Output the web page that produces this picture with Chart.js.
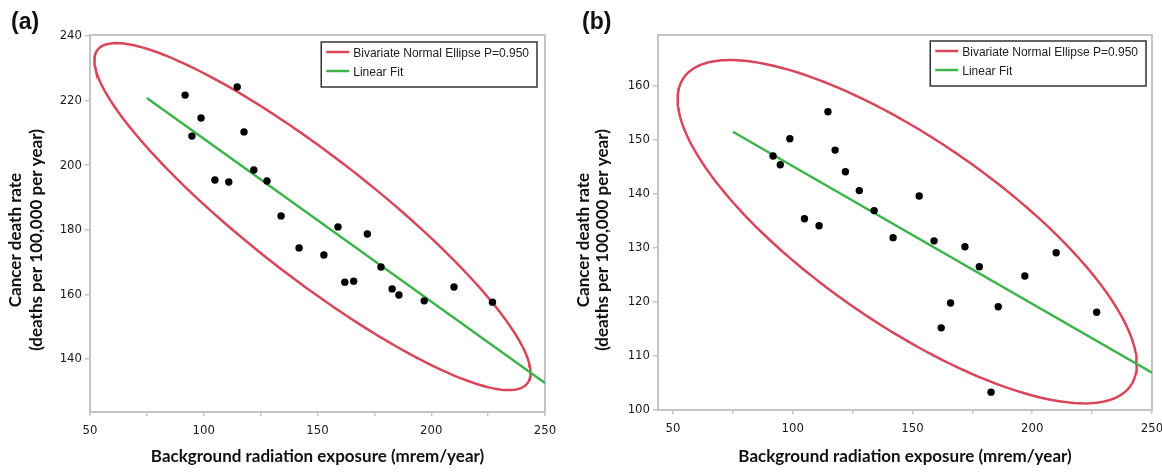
<!DOCTYPE html>
<html><head><meta charset="utf-8">
<script src="https://cdn.jsdelivr.net/npm/chart.js@4.4.1/dist/chart.umd.min.js"></script>
<style>
html,body{margin:0;padding:0;background:#fff;}
#wrap{position:relative;width:1162px;height:472px;overflow:hidden;background:#fff;}
canvas{position:absolute;left:0;top:0;}
</style></head><body>
<div id="wrap">
<canvas id="ca" width="1162" height="472"></canvas>
<canvas id="cb" width="1162" height="472"></canvas>
</div>
<script>
// ---- data ----
const radiation = [91.8, 94.8, 98.8, 104.9, 111.0, 114.7, 117.7, 122.0, 127.8, 134.0, 141.9,
                   152.8, 159.0, 162.0, 165.9, 171.9, 177.9, 182.8, 185.8, 196.9, 210.0, 226.9];
const cancerRateA = [221.7, 209.0, 214.6, 195.4, 194.8, 224.2, 210.3, 198.5, 195.1, 184.3, 174.4,
                     172.2, 180.9, 163.8, 164.1, 178.7, 168.5, 161.7, 159.8, 158.0, 162.3, 157.6];
const cancerRateB = [147.0, 145.4, 150.2, 135.4, 134.1, 155.2, 148.1, 144.1, 140.6, 136.9, 131.9,
                     139.6, 131.3, 115.2, 119.8, 130.2, 126.5, 103.3, 119.1, 124.8, 129.1, 118.1];
const fitX = [75, 250];
const fitA = [220.8, 132.6];
const fitB = [151.5, 106.9];
const xTickValues = [50, 75, 100, 125, 150, 175, 200, 225, 250];
const xTickLabels = [50, 100, 150, 200, 250];
const yTicksA = [140, 160, 180, 200, 220, 240];
const yTicksB = [100, 110, 120, 130, 140, 150, 160];
const chi2_2dof_095 = 5.991;  // chi-square quantile, 2 dof, P=0.95

const labelEllipse = 'Bivariate Normal Ellipse P=0.950';
const labelFit = 'Linear Fit';
const xTitle = 'Background radiation exposure (mrem/year)';
const yTitle1 = 'Cancer death rate';
const yTitle2 = '(deaths per 100,000 per year)';

// ---- styles ----
const RED = '#d9465c';
const GREEN = '#3cb44a';
const FRAME = '#c4c4c4';
const TICKCOL = '#1a1a1a';
const TICKFONT = { family: "'Liberation Sans Narrow','DejaVu Sans Condensed','Liberation Sans',sans-serif", size: 13 };
const TITLEFONT = "bold 17px Lato, 'Liberation Sans', sans-serif";
const LEGENDFONT = "12px 'Liberation Sans', Arial, sans-serif";

// bivariate normal ellipse computed from the plotted data (mean, sample covariance)
function ellipse(xs, ys) {
  const n = xs.length;
  const mx = xs.reduce((a, b) => a + b, 0) / n;
  const my = ys.reduce((a, b) => a + b, 0) / n;
  let sxx = 0, syy = 0, sxy = 0;
  for (let i = 0; i < n; i++) {
    sxx += (xs[i] - mx) ** 2; syy += (ys[i] - my) ** 2; sxy += (xs[i] - mx) * (ys[i] - my);
  }
  sxx /= (n - 1); syy /= (n - 1); sxy /= (n - 1);
  const sx = Math.sqrt(sxx), sy = Math.sqrt(syy), r = sxy / (sx * sy);
  const k = Math.sqrt(chi2_2dof_095);
  const pts = [];
  for (let i = 0; i <= 240; i++) {
    const t = i / 240 * 2 * Math.PI;
    pts.push({ x: mx + k * sx * Math.cos(t),
               y: my + k * sy * (r * Math.cos(t) + Math.sqrt(1 - r * r) * Math.sin(t)) });
  }
  return pts;
}

const framePlugin = {
  id: 'frame',
  beforeDatasetsDraw(chart) {
    const { ctx, chartArea: ca } = chart;
    ctx.save();
    ctx.strokeStyle = FRAME; ctx.lineWidth = 2;
    ctx.strokeRect(ca.left, ca.top, ca.right - ca.left, ca.bottom - ca.top);
    ctx.restore();
  }
};

const legendPlugin = {
  id: 'boxLegend',
  afterDatasetsDraw(chart, args, o) {
    const { ctx, chartArea: ca } = chart;
    const items = chart.data.datasets.filter(d => d.inLegend);
    ctx.save();
    ctx.font = LEGENDFONT;
    const tw = Math.max(...items.map(d => ctx.measureText(d.label).width));
    const w = 5 + 23 + 4 + tw + 8, rowH = 19, h = items.length * rowH + 7;
    const x = ca.right - o.right - w, y = ca.top + o.top;
    ctx.fillStyle = '#fff'; ctx.fillRect(x, y, w, h);
    ctx.strokeStyle = '#333'; ctx.lineWidth = 1.5; ctx.strokeRect(x, y, w, h);
    items.forEach((d, i) => {
      const cy = y + 10 + i * rowH;
      ctx.strokeStyle = d.borderColor; ctx.lineWidth = 2.5;
      ctx.beginPath(); ctx.moveTo(x + 5, cy); ctx.lineTo(x + 28, cy); ctx.stroke();
      ctx.fillStyle = '#222'; ctx.textBaseline = 'middle'; ctx.textAlign = 'left';
      ctx.fillText(d.label, x + 32, cy + 2);
    });
    ctx.restore();
  }
};

const textPlugin = {
  id: 'panelText',
  afterDraw(chart, args, o) {
    const { ctx, chartArea: ca } = chart;
    ctx.save();
    ctx.fillStyle = '#111';
    ctx.font = "bold 23px 'Liberation Sans', Arial, sans-serif";
    ctx.textAlign = 'left'; ctx.textBaseline = 'middle';
    ctx.fillText(o.panel, o.panelX, o.panelY);
    ctx.font = TITLEFONT; ctx.textAlign = 'center';
    ctx.fillText(xTitle, (ca.left + ca.right) / 2, o.xTitleY);
    ctx.save();
    ctx.translate(ca.left + o.yTitleDx1, o.yTitleY); ctx.rotate(-Math.PI / 2);
    ctx.fillText(yTitle1, 0, 0);
    ctx.restore();
    ctx.save();
    ctx.translate(ca.left + o.yTitleDx2, o.yTitleY); ctx.rotate(-Math.PI / 2);
    ctx.fillText(yTitle2, 0, 0);
    ctx.restore();
    ctx.restore();
  }
};

function makeChart(id, c) {
  return new Chart(document.getElementById(id), {
    type: 'scatter',
    data: {
      datasets: [
        { label: labelEllipse, inLegend: true, data: ellipse(radiation, c.y), showLine: true,
          pointRadius: 0, borderColor: RED, backgroundColor: RED, borderWidth: 2.5, tension: 0, order: 3 },
        { label: labelFit, inLegend: true, data: fitX.map((x, i) => ({ x, y: c.fit[i] })), showLine: true,
          pointRadius: 0, borderColor: GREEN, backgroundColor: GREEN, borderWidth: 2.5, order: 2 },
        { label: 'data', data: radiation.map((x, i) => ({ x, y: c.y[i] })), showLine: false,
          pointRadius: 3.7, backgroundColor: '#000', borderColor: '#000', borderWidth: 0, order: 1 }
      ]
    },
    options: {
      responsive: false, animation: false, events: [],
      layout: { padding: c.padding },
      plugins: {
        legend: { display: false }, tooltip: { enabled: false },
        boxLegend: c.legend, panelText: c.text
      },
      scales: {
        x: {
          type: 'linear', min: c.xMin, max: 250,
          afterBuildTicks: ax => { ax.ticks = xTickValues.map(v => ({ value: v })); },
          afterFit: ax => { ax.height = c.xAxisH; ax.paddingLeft = 0; ax.paddingRight = 0; },
          grid: { display: true, drawOnChartArea: false, drawTicks: true, tickLength: 4, color: FRAME, lineWidth: 1.5 },
          border: { display: false },
          ticks: { color: TICKCOL, font: TICKFONT, padding: 7, maxRotation: 0, autoSkip: false,
                   callback: v => xTickLabels.includes(v) ? String(v) : '' }
        },
        y: {
          type: 'linear', min: c.yMin, max: c.yMax,
          afterBuildTicks: ax => { ax.ticks = c.yTicks.map(v => ({ value: v })); },
          afterFit: ax => { ax.width = c.yAxisW; ax.paddingTop = 0; ax.paddingBottom = 0; },
          grid: { display: true, drawOnChartArea: false, drawTicks: true, tickLength: 5, color: FRAME, lineWidth: 1.5 },
          border: { display: false },
          ticks: { color: TICKCOL, font: TICKFONT, padding: 3, autoSkip: false, callback: v => String(v) }
        }
      }
    },
    plugins: [framePlugin, legendPlugin, textPlugin]
  });
}

makeChart('ca', {
  y: cancerRateA, fit: fitA, xMin: 50, yMin: 123.6, yMax: 240.3, yTicks: yTicksA,
  padding: { left: 0, top: 35, right: 617, bottom: 0 }, yAxisW: 90, xAxisH: 60,
  legend: { right: 8, top: 7 },
  text: { panel: '(a)', panelX: 11, panelY: 23, xTitleY: 457, yTitleY: 240, yTitleDx1: -74, yTitleDx2: -53 }
});
makeChart('cb', {
  y: cancerRateB, fit: fitB, xMin: 43.75, yMin: 100, yMax: 169.4, yTicks: yTicksB,
  padding: { left: 570, top: 35, right: 10, bottom: 0 }, yAxisW: 88, xAxisH: 62,
  legend: { right: 6, top: 6 },
  text: { panel: '(b)', panelX: 582, panelY: 23, xTitleY: 457, yTitleY: 240, yTitleDx1: -74, yTitleDx2: -55 }
});
</script>
</body></html>
